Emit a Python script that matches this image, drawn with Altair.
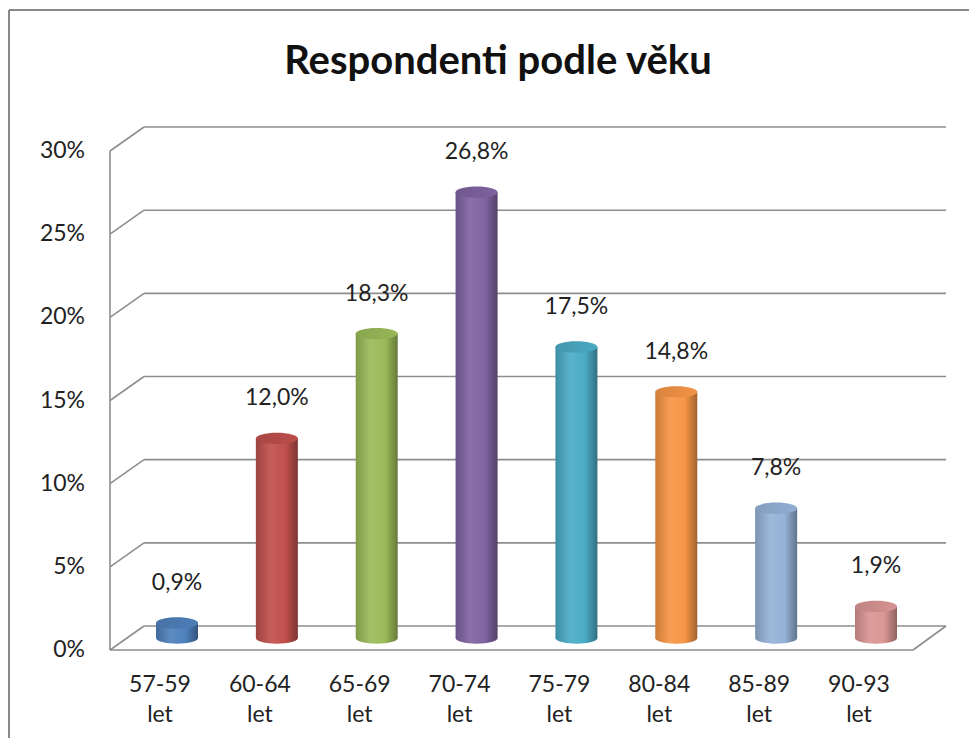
import altair as alt
import pandas as pd

# ---- data ----
age_groups = ["57-59", "60-64", "65-69", "70-74", "75-79", "80-84", "85-89", "90-93"]
unit_label = "let"
values = [0.9, 12.0, 18.3, 26.8, 17.5, 14.8, 7.8, 1.9]
value_labels = ["0,9%", "12,0%", "18,3%", "26,8%", "17,5%", "14,8%", "7,8%", "1,9%"]
bar_colors = ["#4F81BD", "#C0504D", "#9BBB59", "#8064A2", "#4BACC6", "#F79646", "#95B3D7", "#D99694"]
tick_values = [0, 5, 10, 15, 20, 25, 30]
tick_labels = ["0%", "5%", "10%", "15%", "20%", "25%", "30%"]
title_text = "Respondenti podle věku"

FONT = "Lato"
GRID = "#8E8E8E"


def mix(hex_color, other, t):
    h = hex_color.lstrip("#")
    o = other.lstrip("#")
    a = [int(h[i:i + 2], 16) for i in (0, 2, 4)]
    b = [int(o[i:i + 2], 16) for i in (0, 2, 4)]
    c = [round(a[k] * (1 - t) + b[k] * t) for k in range(3)]
    return "#%02x%02x%02x" % tuple(c)


df = pd.DataFrame({
    "age": age_groups,
    "unit": [unit_label] * len(age_groups),
    "value": values,
    "label": value_labels,
})
ticks = pd.DataFrame({"v": tick_values, "t": tick_labels})
one = pd.DataFrame({"a": [0]})

yscale = alt.Scale(domain=[-6.012, 37.877], nice=False, zero=False)
xscale = alt.Scale(type="point", domain=age_groups, range=[169, 868], padding=0)

X = alt.X("age:N", scale=xscale, axis=None)


def Yq(field):
    return alt.Y(field, scale=yscale, axis=None)


layers = []

# outer frame (top and left edges)
layers.append(alt.Chart(one).mark_rule(color="#888888", strokeWidth=2).encode(
    x=alt.value(1), x2=alt.value(961), y=alt.value(2)))
layers.append(alt.Chart(one).mark_rule(color="#888888", strokeWidth=2).encode(
    x=alt.value(1), y=alt.value(2), y2=alt.value(730)))

# back wall gridlines
layers.append(alt.Chart(ticks).mark_rule(color=GRID, strokeWidth=1.6, yOffset=-12).encode(
    y=Yq("v:Q"), x=alt.value(136), x2=alt.value(938)))
# side wall diagonals
layers.append(alt.Chart(ticks).mark_rule(color=GRID, strokeWidth=1.6, yOffset=12, y2Offset=-12).encode(
    y=Yq("v:Q"), y2=alt.Y2("v:Q"), x=alt.value(102), x2=alt.value(136)))
# side wall front vertical edge
layers.append(alt.Chart(one).mark_rule(color=GRID, strokeWidth=1.6, yOffset=12, y2Offset=12).encode(
    y=alt.Y(datum=0, scale=yscale, axis=None), y2=alt.Y2(datum=30), x=alt.value(102)))
# floor front edge
layers.append(alt.Chart(one).mark_rule(color=GRID, strokeWidth=1.6, yOffset=12).encode(
    y=alt.Y(datum=0, scale=yscale, axis=None), x=alt.value(102), x2=alt.value(905)))
# floor right diagonal
layers.append(alt.Chart(one).mark_rule(color=GRID, strokeWidth=1.6, yOffset=12, y2Offset=-12).encode(
    y=alt.Y(datum=0, scale=yscale, axis=None), y2=alt.Y2(datum=0), x=alt.value(905), x2=alt.value(938)))

ELLIPSE = "M-1,0A1,0.27,0,1,1,1,0A1,0.27,0,1,1,-1,0Z"
BAR_W = 42

for i, c in enumerate(bar_colors):
    sub = df.iloc[[i]]
    body = alt.Gradient(gradient="linear", x1=0, x2=1, y1=0, y2=0, stops=[
        alt.GradientStop(offset=0, color=mix(c, "#000000", 0.18)),
        alt.GradientStop(offset=0.35, color=mix(c, "#ffffff", 0.08)),
        alt.GradientStop(offset=0.7, color=c),
        alt.GradientStop(offset=1, color=mix(c, "#000000", 0.35)),
    ])
    top = alt.Gradient(gradient="linear", x1=0, x2=1, y1=0, y2=0, stops=[
        alt.GradientStop(offset=0, color=mix(c, "#000000", 0.12)),
        alt.GradientStop(offset=1, color=mix(c, "#000000", 0.02)),
    ])
    layers.append(alt.Chart(sub).mark_point(shape=ELLIPSE, size=BAR_W * BAR_W, filled=True,
                                            fill=body, opacity=1, strokeWidth=0).encode(
        x=X, y=alt.Y(datum=0, scale=yscale, axis=None)))
    layers.append(alt.Chart(sub).mark_bar(width=BAR_W, fill=body, stroke=None).encode(
        x=X, y=alt.Y("value:Q", scale=yscale, axis=None, stack=None), y2=alt.Y2(datum=0)))
    layers.append(alt.Chart(sub).mark_point(shape=ELLIPSE, size=BAR_W * BAR_W, filled=True,
                                            fill=top, opacity=1, strokeWidth=0).encode(
        x=X, y=Yq("value:Q")))

# value labels
layers.append(alt.Chart(df).mark_text(font=FONT, fontSize=23, color="#222222", dy=-40,
                                      baseline="middle").encode(
    x=X, y=Yq("value:Q"), text="label:N"))
# category labels (two lines)
layers.append(alt.Chart(df).mark_text(font=FONT, fontSize=23, color="#222222", dx=-17, dy=47,
                                      baseline="middle").encode(
    x=X, y=alt.Y(datum=0, scale=yscale, axis=None), text="age:N"))
layers.append(alt.Chart(df).mark_text(font=FONT, fontSize=23, color="#222222", dx=-17, dy=77,
                                      baseline="middle").encode(
    x=X, y=alt.Y(datum=0, scale=yscale, axis=None), text="unit:N"))
# y tick labels (front plane)
layers.append(alt.Chart(ticks).mark_text(font=FONT, fontSize=23, color="#222222", align="right",
                                         baseline="middle", dy=12).encode(
    y=Yq("v:Q"), x=alt.value(77), text="t:N"))
# title
layers.append(alt.Chart(one).mark_text(font=FONT, fontSize=40, fontWeight="bold", color="#111111",
                                       baseline="middle").encode(
    x=alt.value(490), y=alt.value(54), text=alt.value(title_text)))

chart = alt.layer(*layers).properties(
    width=961, height=730,
    autosize=alt.AutoSizeParams(type="none"),
    padding=0,
).configure_view(stroke=None)

chart.save("out.html", embed_options={"renderer": "svg", "actions": False})
